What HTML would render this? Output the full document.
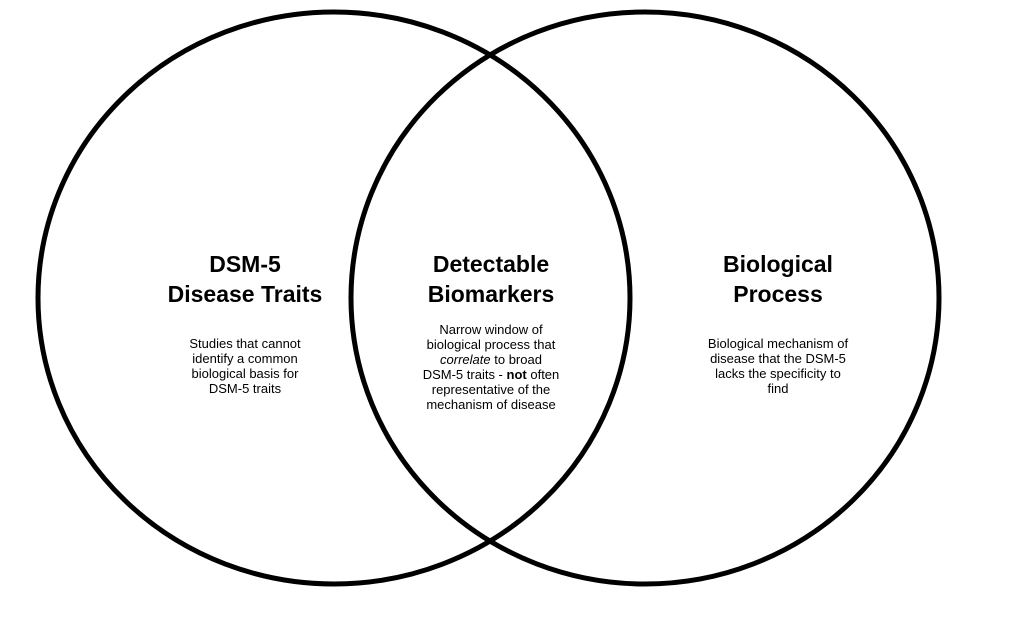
<!DOCTYPE html>
<html><head><style>
body{margin:0;width:1021px;height:623px;background:#fff;overflow:hidden;position:relative;font-family:"Liberation Sans",Arial,sans-serif;color:#000}
.h{position:absolute;font-weight:bold;font-size:23px;line-height:30px;text-align:center;width:260px}
.b{position:absolute;font-size:13px;line-height:15px;text-align:center;width:220px;white-space:nowrap}
</style></head><body>
<svg width="1021" height="623" style="position:absolute;left:0;top:0">
<ellipse cx="334" cy="298" rx="296" ry="286" fill="none" stroke="#000" stroke-width="5"/>
<ellipse cx="645" cy="298" rx="294" ry="286" fill="none" stroke="#000" stroke-width="5"/>
</svg>
<div class="h" style="left:115px;top:249px">DSM-5<br>Disease Traits</div>
<div class="h" style="left:361px;top:249px">Detectable<br>Biomarkers</div>
<div class="h" style="left:648px;top:249px">Biological<br>Process</div>
<div class="b" style="left:135px;top:336px">Studies that cannot<br>identify a common<br>biological basis for<br>DSM-5 traits</div>
<div class="b" style="left:381px;top:322px">Narrow window of<br>biological process that<br><i>correlate</i> to broad<br>DSM-5 traits - <b>not</b> often<br>representative of the<br>mechanism of disease</div>
<div class="b" style="left:668px;top:336px">Biological mechanism of<br>disease that the DSM-5<br>lacks the specificity to<br>find</div>
</body></html>
